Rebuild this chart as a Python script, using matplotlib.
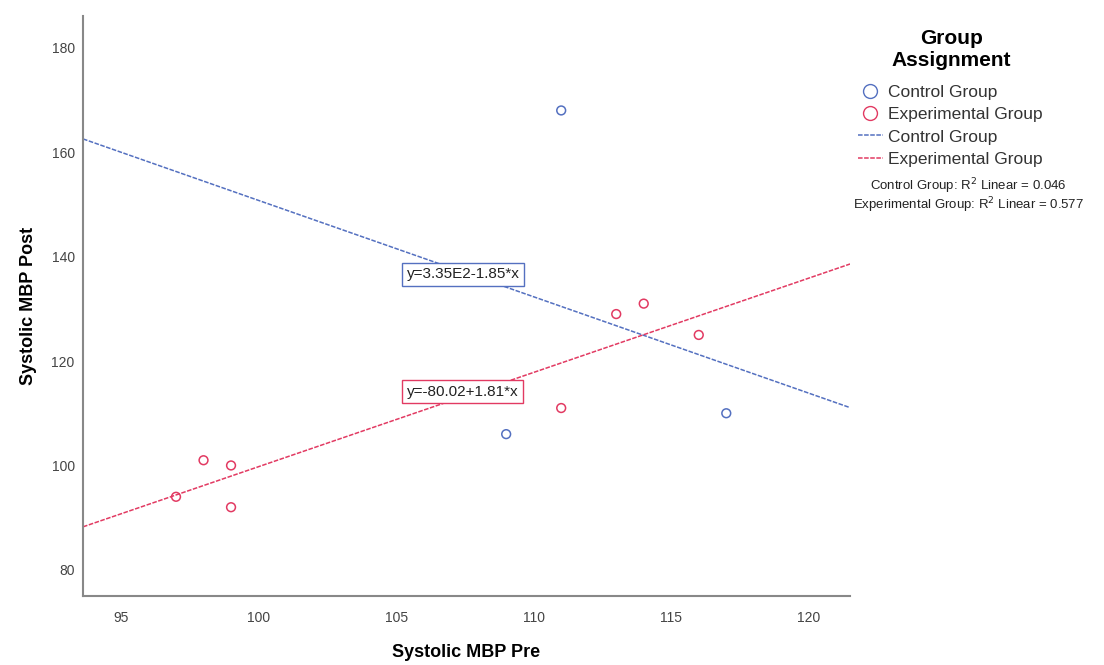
import numpy as np
import matplotlib
matplotlib.use('Agg')
import matplotlib.pyplot as plt
from matplotlib.lines import Line2D

plt.rcParams['font.family'] = ['Liberation Sans', 'DejaVu Sans']

# данные
ctrl_pre = [111, 109, 117]
ctrl_post = [168, 106, 110]
exp_pre = [97, 98, 99, 99, 111, 113, 114, 116]
exp_post = [94, 101, 100, 92, 111, 129, 131, 125]

ctrl_eq = 'y=3.35E2-1.85*x'
exp_eq = 'y=-80.02+1.81*x'
ctrl_r2 = 0.046
exp_r2 = 0.577

x_ticks = [95, 100, 105, 110, 115, 120]
y_ticks = [80, 100, 120, 140, 160, 180]

blue = '#5470c0'
red = '#e23a62'
dash = (0, (3, 1))

fig = plt.figure(figsize=(11.04, 6.65), dpi=100)
ax = fig.add_axes([0.0752, 0.1038, 0.6948, 0.8722])

xlim = (93.62, 121.5)
ax.set_xlim(*xlim)
ax.set_ylim(75.0, 186.1)

# линии регрессии по точкам
xs = np.array(xlim)
k_c, b_c = np.polyfit(ctrl_pre, ctrl_post, 1)
k_e, b_e = np.polyfit(exp_pre, exp_post, 1)
ax.plot(xs, b_c + k_c * xs, color=blue, lw=1.1, ls=dash)
ax.plot(xs, b_e + k_e * xs, color=red, lw=1.1, ls=dash)

ax.scatter(ctrl_pre, ctrl_post, s=40, facecolors='none', edgecolors=blue, lw=1.1, zorder=3)
ax.scatter(exp_pre, exp_post, s=40, facecolors='none', edgecolors=red, lw=1.1, zorder=3)

# подписи уравнений
ax.text(105.38, 136.6, ctrl_eq, fontsize=11, color='#222222', va='center', ha='left',
        bbox=dict(boxstyle='square,pad=0.3', fc='white', ec=blue, lw=1))
ax.text(105.38, 114.1, exp_eq, fontsize=11, color='#222222', va='center', ha='left',
        bbox=dict(boxstyle='square,pad=0.3', fc='white', ec=red, lw=1))

ax.set_xticks(x_ticks)
ax.set_yticks(y_ticks)
ax.tick_params(length=0, labelsize=10, colors='#444444')
ax.tick_params(axis='x', pad=11)
ax.tick_params(axis='y', pad=6)
for s in ['top', 'right']:
    ax.spines[s].set_visible(False)
for s in ['left', 'bottom']:
    ax.spines[s].set_color('#888888')
    ax.spines[s].set_linewidth(1.5)

ax.set_xlabel('Systolic MBP Pre', fontsize=13, fontweight='bold')
ax.set_ylabel('Systolic MBP Post', fontsize=13, fontweight='bold')
ax.xaxis.set_label_coords(0.5, -0.083)
ax.yaxis.set_label_coords(-0.06, 0.5)

# легенда
fig.text(0.862, 0.926, 'Group\nAssignment', fontsize=15, fontweight='bold',
         ha='center', va='center', multialignment='center', linespacing=1.2)
handles = [
    Line2D([], [], ls='none', marker='o', mfc='none', mec=blue, ms=10, mew=1),
    Line2D([], [], ls='none', marker='o', mfc='none', mec=red, ms=10, mew=1),
    Line2D([], [], color=blue, lw=1.1, ls=dash),
    Line2D([], [], color=red, lw=1.1, ls=dash),
]
labels = ['Control Group', 'Experimental Group', 'Control Group', 'Experimental Group']
leg = fig.legend(handles, labels, loc='upper left',
                 bbox_to_anchor=(0.7695, 0.885), frameon=False, fontsize=12.5,
                 handlelength=1.4, handletextpad=0.3, labelspacing=0.4,
                 borderpad=0.0)
for t in leg.get_texts():
    t.set_color('#333333')

fig.text(0.877, 0.72, 'Control Group: R$^2$ Linear = %.3f' % ctrl_r2,
         fontsize=9.5, ha='center', va='center', color='#222222')
fig.text(0.877, 0.692, 'Experimental Group: R$^2$ Linear = %.3f' % exp_r2,
         fontsize=9.5, ha='center', va='center', color='#222222')

fig.savefig('out.png', dpi=100)
